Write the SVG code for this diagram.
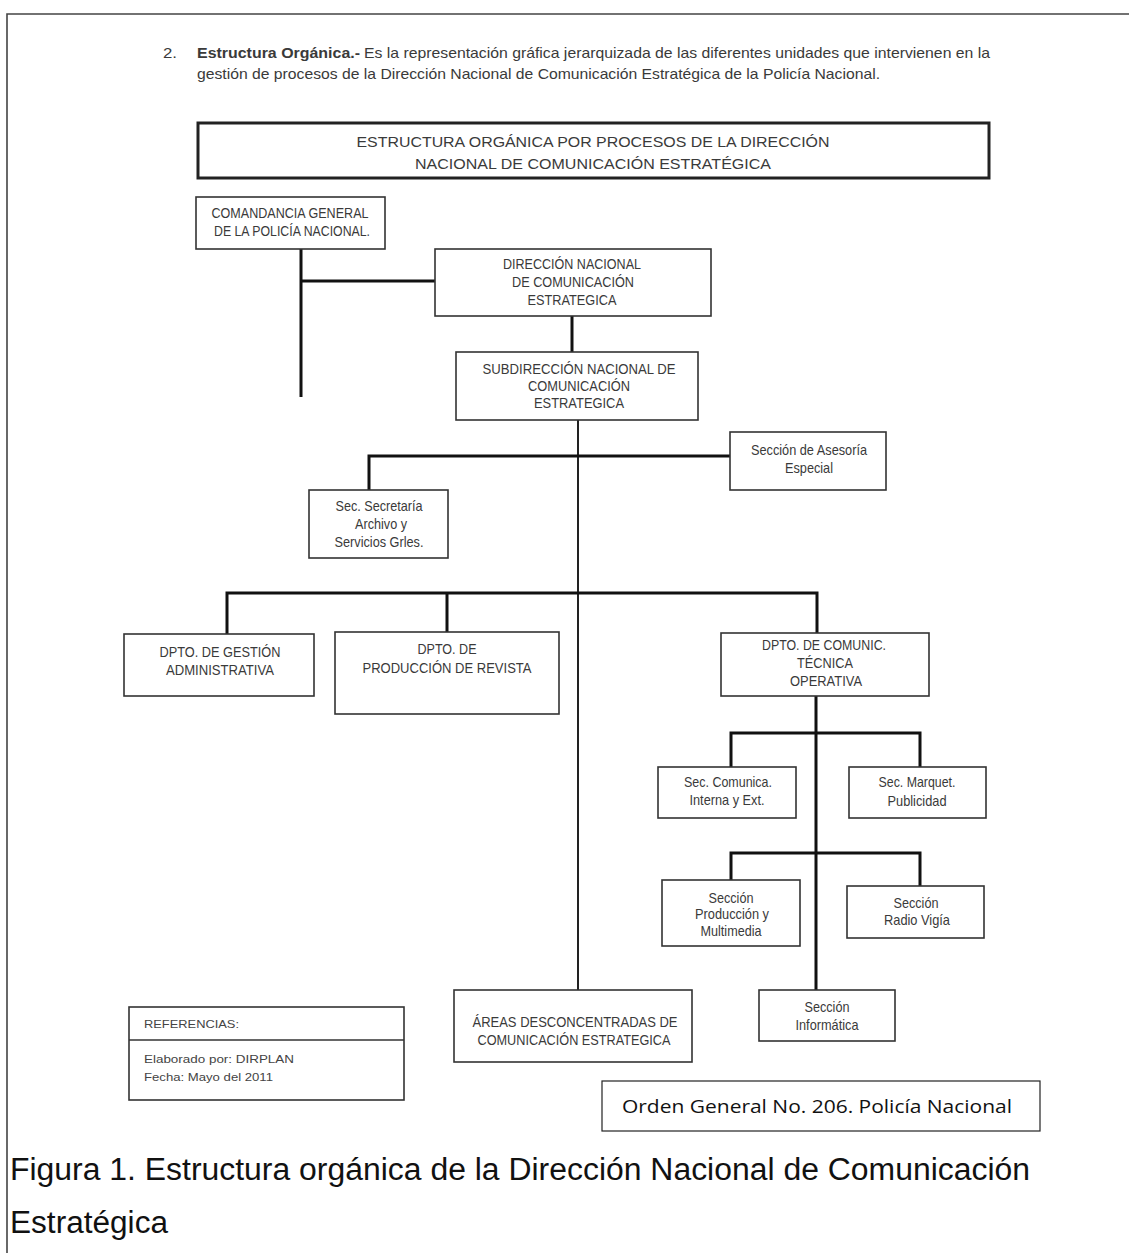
<svg xmlns="http://www.w3.org/2000/svg" width="1129" height="1253" viewBox="0 0 1129 1253">
<style>
.bx{fill:#fff;stroke:#333;stroke-width:1.6}
.t{font-family:"Liberation Sans",Arial,sans-serif;font-size:15px;fill:#3a3a3a;text-anchor:middle}
.tl{font-family:"Liberation Sans",Arial,sans-serif;font-size:15px;fill:#3a3a3a}
.c{fill:none;stroke:#111;stroke-width:3}
.c2{fill:none;stroke:#222;stroke-width:2}
.ref{font-family:"Liberation Sans",Arial,sans-serif;font-size:11px;fill:#444}
</style>
<rect width="1129" height="1253" fill="#fff"/>
<g id="frame"><path d="M7 1253 V14 H1129" fill="none" stroke="#444" stroke-width="1.6"/></g>

<g id="intro">
<text class="tl" x="163" y="58" textLength="14" lengthAdjust="spacingAndGlyphs">2.</text>
<text class="tl" x="197" y="58" font-weight="bold" textLength="163" lengthAdjust="spacingAndGlyphs">Estructura Orgánica.-</text>
<text class="tl" x="364" y="58" textLength="626" lengthAdjust="spacingAndGlyphs">Es la representación gráfica jerarquizada de las diferentes unidades que intervienen en la</text>
<text class="tl" x="197" y="79" textLength="683" lengthAdjust="spacingAndGlyphs">gestión de procesos de la Dirección Nacional de Comunicación Estratégica de la Policía Nacional.</text>
</g>

<g id="title">
<rect x="198" y="123" width="791" height="55" fill="#fff" stroke="#222" stroke-width="3"/>
<text class="t" x="593" y="147" font-size="17" textLength="473" lengthAdjust="spacingAndGlyphs">ESTRUCTURA ORGÁNICA POR PROCESOS DE LA DIRECCIÓN</text>
<text class="t" x="593" y="169" font-size="17" textLength="356" lengthAdjust="spacingAndGlyphs">NACIONAL DE COMUNICACIÓN ESTRATÉGICA</text>
</g>

<g id="connectors">
<path class="c" d="M301 249 V397 M301 281 H435"/>
<path class="c" d="M572 316 V352"/>
<path class="c2" d="M578 420 V990"/>
<path class="c" d="M369 490 V456 H730"/>
<path class="c" d="M227 634 V593 H817 V633 M447 593 V632"/>
<path class="c" d="M816 696 V990"/>
<path class="c" d="M731 767 V733 H920 V767"/>
<path class="c" d="M731 880 V853 H920 V886"/>
</g>

<g id="comandancia">
<rect class="bx" x="196" y="197" width="189" height="52"/>
<text class="t" x="290" y="218" textLength="157" lengthAdjust="spacingAndGlyphs">COMANDANCIA GENERAL</text>
<text class="t" x="292" y="236" textLength="156" lengthAdjust="spacingAndGlyphs">DE LA POLICÍA NACIONAL.</text>
</g>

<g id="direccion">
<rect class="bx" x="435" y="249" width="276" height="67"/>
<text class="t" x="572" y="269" textLength="138" lengthAdjust="spacingAndGlyphs">DIRECCIÓN NACIONAL</text>
<text class="t" x="573" y="287" textLength="122" lengthAdjust="spacingAndGlyphs">DE COMUNICACIÓN</text>
<text class="t" x="572" y="305" textLength="89" lengthAdjust="spacingAndGlyphs">ESTRATEGICA</text>
</g>

<g id="subdireccion">
<rect class="bx" x="456" y="352" width="242" height="68"/>
<text class="t" x="579" y="374" textLength="193" lengthAdjust="spacingAndGlyphs">SUBDIRECCIÓN NACIONAL DE</text>
<text class="t" x="579" y="391" textLength="102" lengthAdjust="spacingAndGlyphs">COMUNICACIÓN</text>
<text class="t" x="579" y="408" textLength="90" lengthAdjust="spacingAndGlyphs">ESTRATEGICA</text>
</g>

<g id="asesoria">
<rect class="bx" x="730" y="432" width="156" height="58"/>
<text class="t" x="809" y="455" textLength="116" lengthAdjust="spacingAndGlyphs">Sección de Asesoría</text>
<text class="t" x="809" y="473" textLength="48" lengthAdjust="spacingAndGlyphs">Especial</text>
</g>

<g id="secretaria">
<rect class="bx" x="309" y="490" width="139" height="68"/>
<text class="t" x="379" y="511" textLength="87" lengthAdjust="spacingAndGlyphs">Sec. Secretaría</text>
<text class="t" x="381" y="529" textLength="52" lengthAdjust="spacingAndGlyphs">Archivo y</text>
<text class="t" x="379" y="547" textLength="89" lengthAdjust="spacingAndGlyphs">Servicios Grles.</text>
</g>

<g id="gestion">
<rect class="bx" x="124" y="634" width="190" height="62"/>
<text class="t" x="220" y="657" textLength="121" lengthAdjust="spacingAndGlyphs">DPTO. DE GESTIÓN</text>
<text class="t" x="220" y="675" textLength="108" lengthAdjust="spacingAndGlyphs">ADMINISTRATIVA</text>
</g>

<g id="produccion-revista">
<rect class="bx" x="335" y="632" width="224" height="82"/>
<text class="t" x="447" y="654" textLength="59" lengthAdjust="spacingAndGlyphs">DPTO. DE</text>
<text class="t" x="447" y="673" textLength="169" lengthAdjust="spacingAndGlyphs">PRODUCCIÓN DE REVISTA</text>
</g>

<g id="comunic-tecnica">
<rect class="bx" x="721" y="633" width="208" height="63"/>
<text class="t" x="824" y="650" textLength="124" lengthAdjust="spacingAndGlyphs">DPTO. DE COMUNIC.</text>
<text class="t" x="825" y="668" textLength="56" lengthAdjust="spacingAndGlyphs">TÉCNICA</text>
<text class="t" x="826" y="686" textLength="72" lengthAdjust="spacingAndGlyphs">OPERATIVA</text>
</g>

<g id="comunica">
<rect class="bx" x="658" y="767" width="138" height="51"/>
<text class="t" x="728" y="787" textLength="88" lengthAdjust="spacingAndGlyphs">Sec. Comunica.</text>
<text class="t" x="727" y="805" textLength="75" lengthAdjust="spacingAndGlyphs">Interna y Ext.</text>
</g>

<g id="marquet">
<rect class="bx" x="849" y="767" width="137" height="51"/>
<text class="t" x="917" y="787" textLength="77" lengthAdjust="spacingAndGlyphs">Sec. Marquet.</text>
<text class="t" x="917" y="806" textLength="59" lengthAdjust="spacingAndGlyphs">Publicidad</text>
</g>

<g id="multimedia">
<rect class="bx" x="662" y="880" width="138" height="66"/>
<text class="t" x="731" y="903" textLength="45" lengthAdjust="spacingAndGlyphs">Sección</text>
<text class="t" x="732" y="919" textLength="74" lengthAdjust="spacingAndGlyphs">Producción y</text>
<text class="t" x="731" y="936" textLength="61" lengthAdjust="spacingAndGlyphs">Multimedia</text>
</g>

<g id="radio-vigia">
<rect class="bx" x="847" y="886" width="137" height="52"/>
<text class="t" x="916" y="908" textLength="45" lengthAdjust="spacingAndGlyphs">Sección</text>
<text class="t" x="917" y="925" textLength="66" lengthAdjust="spacingAndGlyphs">Radio Vigía</text>
</g>

<g id="informatica">
<rect class="bx" x="759" y="990" width="136" height="51"/>
<text class="t" x="827" y="1012" textLength="45" lengthAdjust="spacingAndGlyphs">Sección</text>
<text class="t" x="827" y="1030" textLength="63" lengthAdjust="spacingAndGlyphs">Informática</text>
</g>

<g id="areas">
<rect class="bx" x="454" y="990" width="238" height="72"/>
<text class="t" x="575" y="1027" textLength="205" lengthAdjust="spacingAndGlyphs">ÁREAS DESCONCENTRADAS DE</text>
<text class="t" x="574" y="1045" textLength="193" lengthAdjust="spacingAndGlyphs">COMUNICACIÓN ESTRATEGICA</text>
</g>

<g id="referencias">
<rect class="bx" x="129" y="1007" width="275" height="93"/>
<path d="M129 1040 H404" stroke="#333" stroke-width="1.6"/>
<text class="ref" x="144" y="1028" textLength="95" lengthAdjust="spacingAndGlyphs">REFERENCIAS:</text>
<text class="ref" x="144" y="1063" textLength="150" lengthAdjust="spacingAndGlyphs">Elaborado por: DIRPLAN</text>
<text class="ref" x="144" y="1081" textLength="129" lengthAdjust="spacingAndGlyphs">Fecha: Mayo del 2011</text>
</g>

<g id="orden-general">
<rect x="602" y="1081" width="438" height="50" fill="#fff" stroke="#222" stroke-width="1.2"/>
<text x="622" y="1113" font-family="'Open Sans','Noto Sans',sans-serif" font-size="19" fill="#111" textLength="390" lengthAdjust="spacingAndGlyphs">Orden General No. 206. Policía Nacional</text>
</g>

<g id="caption">
<text x="10" y="1180" font-family="'Liberation Sans',Arial,sans-serif" font-size="31" fill="#111" textLength="1020" lengthAdjust="spacingAndGlyphs">Figura 1. Estructura orgánica de la Dirección Nacional de Comunicación</text>
<text x="10" y="1233" font-family="'Liberation Sans',Arial,sans-serif" font-size="31" fill="#111" textLength="158" lengthAdjust="spacingAndGlyphs">Estratégica</text>
</g>
</svg>
